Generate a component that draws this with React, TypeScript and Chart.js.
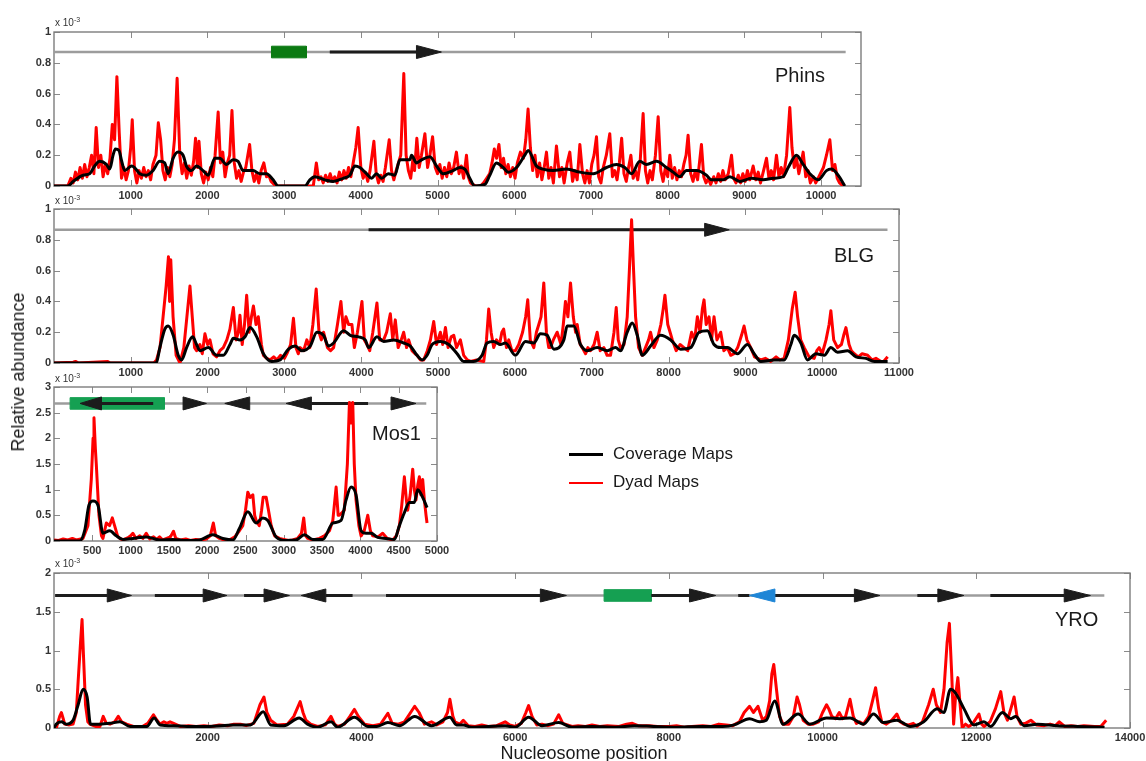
import React, { useEffect, useRef } from 'react';
import { Chart, registerables } from 'chart.js';

Chart.register(...registerables);

type Pt = [number, number];

// ---------------- Phins ----------------
const phinsDyad: Pt[] = [
  [0,0],[180,0],[220,0.05],[250,0.02],[280,0.09],[310,0.04],[340,0.12],[370,0.05],[400,0.14],[430,0.06],[460,0.12],[490,0.2],[520,0.08],[550,0.38],[580,0.12],[610,0.2],[640,0.06],[670,0.14],[700,0.08],[730,0.18],[760,0.4],[790,0.3],[820,0.71],[850,0.35],[880,0.05],[910,0.12],[940,0.04],[970,0.1],[1000,0.25],[1020,0.43],[1050,0.1],[1080,0.02],[1110,0.1],[1140,0.05],[1170,0.12],[1200,0.06],[1230,0.1],[1260,0.04],[1290,0.14],[1330,0.2],[1360,0.41],[1390,0.3],[1420,0.1],[1450,0.04],[1480,0.12],[1510,0.06],[1540,0.14],[1570,0.3],[1605,0.7],[1640,0.2],[1670,0.08],[1700,0.15],[1730,0.05],[1760,0.13],[1790,0.07],[1820,0.16],[1845,0.31],[1870,0.12],[1890,0.29],[1920,0.08],[1950,0.02],[1980,0.09],[2010,0.04],[2040,0.12],[2070,0.06],[2100,0.2],[2140,0.48],[2170,0.15],[2200,0.22],[2230,0.06],[2260,0.15],[2290,0.2],[2320,0.49],[2350,0.15],[2380,0.05],[2410,0.1],[2440,0.03],[2470,0.09],[2500,0.12],[2550,0.27],[2580,0.1],[2610,0.03],[2640,0.08],[2670,0.02],[2700,0.1],[2735,0.15],[2770,0.06],[2800,0.07],[2830,0.03],[2870,0.01],[2900,0],[3380,0],[3420,0.15],[3450,0.04],[3480,0.06],[3510,0.02],[3540,0.07],[3570,0.03],[3600,0.08],[3630,0.03],[3660,0.06],[3690,0.02],[3720,0.09],[3750,0.04],[3780,0.1],[3810,0.05],[3840,0.12],[3870,0.06],[3900,0.15],[3935,0.25],[3965,0.38],[4000,0.12],[4030,0.05],[4060,0.09],[4090,0.03],[4120,0.1],[4170,0.29],[4200,0.08],[4230,0.02],[4260,0.07],[4290,0.03],[4320,0.12],[4370,0.3],[4400,0.1],[4430,0.04],[4460,0.1],[4490,0.15],[4520,0.2],[4560,0.73],[4590,0.2],[4620,0.1],[4650,0.05],[4680,0.18],[4700,0.1],[4730,0.31],[4760,0.12],[4790,0.2],[4835,0.34],[4870,0.12],[4900,0.2],[4935,0.32],[4970,0.12],[5000,0.08],[5030,0.14],[5060,0.05],[5090,0.12],[5120,0.06],[5150,0.15],[5180,0.08],[5210,0.12],[5246,0.22],[5280,0.08],[5310,0.13],[5340,0.05],[5377,0.2],[5400,0.06],[5430,0.02],[5460,0.01],[5500,0],[5560,0],[5600,0.02],[5640,0.05],[5680,0.08],[5710,0.15],[5740,0.24],[5770,0.18],[5800,0.27],[5830,0.12],[5860,0.18],[5890,0.08],[5920,0.14],[5950,0.06],[5980,0.12],[6010,0.05],[6040,0.15],[6080,0.22],[6120,0.18],[6150,0.3],[6180,0.5],[6210,0.25],[6240,0.1],[6270,0.2],[6300,0.06],[6330,0.15],[6360,0.04],[6390,0.12],[6420,0.22],[6450,0.05],[6480,0.12],[6510,0.02],[6550,0.26],[6590,0.06],[6620,0.12],[6650,0.02],[6690,0.15],[6724,0.22],[6760,0.03],[6790,0.1],[6820,0.04],[6855,0.27],[6890,0.08],[6920,0.02],[6950,0.1],[6980,0.02],[7010,0.14],[7040,0.2],[7072,0.32],[7100,0.06],[7130,0.02],[7160,0.12],[7200,0.2],[7245,0.34],[7280,0.06],[7310,0.1],[7340,0.04],[7370,0.15],[7400,0.31],[7430,0.08],[7460,0.03],[7490,0.12],[7520,0.2],[7550,0.05],[7580,0.1],[7610,0.04],[7640,0.15],[7680,0.47],[7710,0.1],[7740,0.02],[7770,0.1],[7800,0.04],[7840,0.2],[7876,0.45],[7910,0.1],[7940,0.03],[7970,0.12],[8000,0.06],[8028,0.2],[8060,0.05],[8090,0.12],[8120,0.04],[8150,0.1],[8180,0.06],[8210,0.14],[8240,0.2],[8266,0.33],[8300,0.08],[8330,0.03],[8360,0.1],[8390,0.04],[8440,0.27],[8470,0.06],[8500,0.02],[8530,0.05],[8560,0.01],[8600,0.06],[8630,0.02],[8660,0.08],[8690,0.03],[8720,0.1],[8750,0.04],[8790,0.08],[8832,0.2],[8860,0.05],[8890,0.02],[8920,0.07],[8950,0.02],[8980,0.08],[9010,0.03],[9040,0.1],[9070,0.04],[9114,0.13],[9150,0.04],[9180,0.09],[9210,0.02],[9250,0.1],[9288,0.18],[9320,0.05],[9350,0.1],[9380,0.04],[9418,0.2],[9450,0.06],[9480,0.12],[9510,0.06],[9550,0.2],[9592,0.51],[9620,0.25],[9650,0.12],[9680,0.18],[9710,0.08],[9740,0.15],[9766,0.22],[9800,0.06],[9830,0.1],[9860,0.02],[9900,0.06],[9930,0.02],[9960,0.05],[9990,0.08],[10030,0.12],[10070,0.2],[10114,0.3],[10150,0.1],[10180,0.14],[10210,0.05],[10240,0.02],[10288,0]
];
const phinsCoverage: Pt[] = [
  [0,0],[180,0],[250,0.03],[380,0.07],[465,0.08],[530,0.13],[596,0.16],[683,0.14],[726,0.11],[770,0.2],[800,0.24],[848,0.23],[878,0.17],[922,0.1],[1010,0.13],[1050,0.12],[1117,0.08],[1204,0.07],[1290,0.1],[1378,0.16],[1443,0.15],[1487,0.08],[1552,0.18],[1617,0.22],[1683,0.2],[1726,0.13],[1791,0.1],[1857,0.13],[1943,0.1],[2009,0.07],[2096,0.18],[2161,0.18],[2248,0.14],[2335,0.17],[2400,0.16],[2465,0.1],[2596,0.1],[2683,0.08],[2770,0.08],[2857,0.04],[2922,0],[3270,0],[3335,0.04],[3400,0.06],[3530,0.04],[3640,0.03],[3770,0.05],[3857,0.07],[3922,0.13],[3987,0.12],[4074,0.08],[4140,0.05],[4204,0.08],[4270,0.05],[4357,0.08],[4443,0.07],[4509,0.17],[4639,0.17],[4661,0.2],[4726,0.15],[4791,0.17],[4900,0.19],[4987,0.13],[5074,0.08],[5200,0.1],[5290,0.12],[5355,0.11],[5420,0.05],[5485,0],[5616,0.01],[5681,0.07],[5768,0.15],[5855,0.12],[5920,0.09],[6029,0.12],[6137,0.2],[6180,0.23],[6289,0.13],[6376,0.11],[6507,0.1],[6681,0.11],[6854,0.09],[7028,0.08],[7202,0.12],[7332,0.14],[7441,0.12],[7528,0.08],[7637,0.16],[7724,0.14],[7854,0.16],[7984,0.12],[8071,0.09],[8158,0.06],[8245,0.1],[8375,0.1],[8506,0.07],[8571,0.04],[8723,0.04],[8810,0.06],[8940,0.03],[9093,0.05],[9245,0.04],[9375,0.05],[9505,0.06],[9571,0.12],[9679,0.2],[9766,0.14],[9853,0.08],[9962,0.04],[10070,0.1],[10136,0.11],[10222,0.07],[10309,0]
];
const phinsXTicks = [1000, 2000, 3000, 4000, 5000, 6000, 7000, 8000, 9000, 10000];
const phinsYTicks = [0, 0.2, 0.4, 0.6, 0.8, 1];
const phinsTrackLevel = 0.87;
const phinsTrackEnd = 10320;
const phinsShafts: Pt[] = [[3595, 4725]];
const phinsHeads: Pt[] = [[4725, 5050]];
const phinsBoxes: Pt[] = [[2835, 3290]];

// ---------------- BLG ----------------
const blgDyad: Pt[] = [
  [0,0],[250,0.005],[280,0.01],[320,0],[700,0.01],[730,0],[1300,0],[1335,0.02],[1380,0.1],[1420,0.3],[1460,0.5],[1490,0.69],[1505,0.4],[1520,0.67],[1550,0.3],[1590,0.05],[1640,0],[1690,0.1],[1730,0.3],[1770,0.5],[1800,0.3],[1830,0.1],[1856,0.08],[1900,0.12],[1930,0.06],[1965,0.19],[2000,0.12],[2030,0.15],[2070,0.06],[2117,0.04],[2160,0.08],[2204,0.1],[2250,0.15],[2290,0.22],[2335,0.36],[2370,0.15],[2400,0.2],[2421,0.31],[2450,0.12],[2480,0.25],[2508,0.44],[2540,0.2],[2570,0.3],[2596,0.37],[2630,0.25],[2660,0.3],[2700,0.12],[2726,0.05],[2770,0.03],[2813,0.02],[2860,0.04],[2900,0.02],[2950,0.05],[3000,0.03],[3040,0.07],[3080,0.12],[3117,0.29],[3150,0.1],[3180,0.06],[3204,0.1],[3250,0.08],[3291,0.15],[3330,0.1],[3370,0.25],[3413,0.48],[3450,0.2],[3480,0.15],[3509,0.2],[3560,0.1],[3600,0.08],[3640,0.1],[3690,0.25],[3735,0.4],[3770,0.2],[3800,0.3],[3835,0.25],[3878,0.25],[3910,0.1],[3950,0.2],[3980,0.3],[4009,0.4],[4040,0.15],[4074,0.12],[4110,0.08],[4150,0.2],[4204,0.39],[4240,0.15],[4291,0.15],[4330,0.2],[4378,0.32],[4410,0.15],[4443,0.28],[4480,0.1],[4520,0.15],[4552,0.2],[4590,0.1],[4617,0.15],[4660,0.08],[4700,0.06],[4726,0.05],[4770,0.02],[4813,0.02],[4860,0.08],[4900,0.15],[4943,0.27],[4980,0.12],[5030,0.2],[5060,0.12],[5096,0.23],[5130,0.1],[5170,0.17],[5204,0.18],[5240,0.1],[5290,0.15],[5333,0.05],[5380,0.02],[5420,0.01],[5500,0.02],[5594,0.01],[5630,0.15],[5659,0.35],[5690,0.2],[5724,0.1],[5760,0.15],[5800,0.12],[5830,0.2],[5854,0.22],[5890,0.1],[5920,0.15],[5960,0.08],[6006,0.08],[6050,0.12],[6100,0.2],[6140,0.3],[6167,0.41],[6200,0.15],[6246,0.1],[6280,0.2],[6311,0.25],[6340,0.3],[6376,0.52],[6410,0.2],[6440,0.1],[6463,0.1],[6500,0.15],[6550,0.2],[6600,0.12],[6630,0.25],[6658,0.4],[6690,0.3],[6724,0.52],[6760,0.3],[6790,0.2],[6811,0.25],[6850,0.12],[6876,0.1],[6920,0.06],[6950,0.1],[6984,0.08],[7030,0.12],[7071,0.2],[7110,0.08],[7158,0.1],[7200,0.05],[7245,0.05],[7290,0.2],[7319,0.36],[7345,0.15],[7375,0.1],[7420,0.12],[7462,0.3],[7490,0.6],[7519,0.93],[7545,0.6],[7571,0.3],[7610,0.1],[7658,0.05],[7700,0.1],[7740,0.15],[7766,0.2],[7810,0.1],[7853,0.15],[7900,0.25],[7930,0.35],[7953,0.44],[7990,0.25],[8020,0.2],[8049,0.15],[8100,0.08],[8150,0.12],[8201,0.1],[8250,0.08],[8300,0.2],[8340,0.15],[8375,0.3],[8410,0.2],[8440,0.35],[8462,0.41],[8490,0.25],[8527,0.3],[8560,0.15],[8592,0.3],[8630,0.15],[8679,0.2],[8720,0.08],[8766,0.1],[8810,0.05],[8853,0.06],[8900,0.1],[8950,0.18],[8983,0.24],[9020,0.15],[9070,0.1],[9120,0.04],[9201,0.02],[9260,0.03],[9331,0.01],[9400,0.04],[9450,0.02],[9505,0.03],[9560,0.15],[9610,0.35],[9648,0.46],[9680,0.3],[9720,0.15],[9766,0.1],[9830,0.04],[9896,0.03],[9930,0.08],[9961,0.1],[10000,0.06],[10050,0.15],[10090,0.25],[10113,0.34],[10150,0.15],[10200,0.1],[10250,0.12],[10280,0.18],[10309,0.23],[10350,0.12],[10380,0.08],[10418,0.06],[10470,0.04],[10520,0.06],[10592,0.05],[10650,0.02],[10700,0.03],[10766,0.01],[10800,0.01],[10852,0.04]
];
const blgCoverage: Pt[] = [
  [0,0],[1330,0],[1378,0.1],[1443,0.22],[1487,0.24],[1552,0.18],[1617,0.05],[1661,0.02],[1726,0.1],[1804,0.17],[1856,0.12],[1900,0.08],[2009,0.1],[2117,0.05],[2204,0.05],[2291,0.12],[2335,0.16],[2421,0.15],[2487,0.17],[2552,0.23],[2639,0.17],[2726,0.06],[2835,0.01],[2943,0.02],[3052,0.09],[3139,0.11],[3226,0.08],[3335,0.11],[3422,0.2],[3509,0.18],[3574,0.11],[3640,0.13],[3770,0.21],[3857,0.18],[3965,0.17],[4052,0.15],[4096,0.1],[4204,0.17],[4291,0.14],[4422,0.15],[4552,0.13],[4639,0.11],[4726,0.05],[4791,0.02],[4857,0.05],[4922,0.12],[5030,0.14],[5139,0.12],[5248,0.06],[5333,0.01],[5463,0.01],[5572,0.05],[5637,0.13],[5724,0.14],[5811,0.12],[5876,0.13],[6006,0.05],[6137,0.14],[6246,0.13],[6333,0.19],[6420,0.18],[6507,0.09],[6637,0.15],[6680,0.24],[6767,0.24],[6854,0.12],[6941,0.08],[7071,0.1],[7202,0.08],[7310,0.1],[7375,0.08],[7462,0.2],[7527,0.26],[7593,0.18],[7658,0.05],[7766,0.11],[7897,0.18],[8028,0.15],[8158,0.09],[8288,0.1],[8397,0.2],[8506,0.21],[8592,0.12],[8679,0.1],[8766,0.1],[8897,0.06],[9027,0.12],[9114,0.06],[9201,0.01],[9375,0.02],[9505,0.02],[9592,0.12],[9635,0.18],[9722,0.13],[9809,0.02],[9918,0.06],[10027,0.05],[10113,0.1],[10200,0.07],[10331,0.08],[10440,0.04],[10570,0.03],[10679,0.01],[10852,0.01]
];
const blgXTicks = [1000, 2000, 3000, 4000, 5000, 6000, 7000, 8000, 9000, 10000, 11000];
const blgYTicks = [0, 0.2, 0.4, 0.6, 0.8, 1];
const blgTrackLevel = 0.865;
const blgTrackEnd = 10850;
const blgShafts: Pt[] = [[4095, 8470]];
const blgHeads: Pt[] = [[8470, 8790]];
const blgBoxes: Pt[] = [];

// ---------------- Mos1 ----------------
const mosDyad: Pt[] = [
  [0,0.02],[60,0.01],[120,0.04],[180,0.02],[240,0.05],[290,0.02],[378,0.05],[443,0.3],[487,1.2],[510,2.0],[522,2.4],[540,1.8],[552,1.5],[587,0.5],[620,0.1],[639,0.05],[683,0.35],[726,0.3],[761,0.45],[791,0.3],[830,0.1],[857,0.05],[900,0.02],[960,0.06],[1000,0.1],[1030,0.15],[1070,0.05],[1120,0.1],[1160,0.05],[1204,0.15],[1250,0.04],[1300,0.08],[1340,0.03],[1378,0.08],[1420,0.02],[1470,0.05],[1520,0.08],[1560,0.19],[1590,0.05],[1650,0.02],[1720,0.04],[1780,0.01],[1850,0.03],[1920,0.02],[1990,0.04],[2040,0.1],[2080,0.35],[2110,0.1],[2161,0.05],[2220,0.02],[2300,0.03],[2360,0.08],[2420,0.2],[2465,0.3],[2500,0.6],[2530,0.95],[2560,0.85],[2596,0.9],[2620,0.5],[2639,0.4],[2680,0.3],[2710,0.6],[2730,0.85],[2770,0.85],[2800,0.6],[2835,0.3],[2880,0.1],[2943,0.05],[3000,0.03],[3060,0.01],[3117,0.02],[3180,0.05],[3230,0.15],[3260,0.45],[3285,0.1],[3313,0.05],[3380,0.02],[3465,0.05],[3530,0.1],[3596,0.2],[3640,0.4],[3683,1.05],[3710,0.5],[3726,0.5],[3790,0.6],[3830,1.5],[3857,2.7],[3880,2.3],[3900,2.7],[3920,1.5],[3943,0.8],[3980,0.3],[4009,0.1],[4050,0.2],[4096,0.5],[4130,0.2],[4161,0.1],[4230,0.08],[4291,0.15],[4350,0.05],[4422,0.02],[4470,0.1],[4509,0.3],[4540,0.7],[4574,1.25],[4600,0.8],[4617,0.6],[4650,0.9],[4683,1.4],[4704,1.0],[4726,0.8],[4750,1.1],[4770,1.25],[4790,0.9],[4813,1.2],[4835,0.8],[4857,0.5],[4870,0.35]
];
const mosCoverage: Pt[] = [
  [0,0],[335,0],[400,0.2],[457,0.7],[509,0.78],[574,0.7],[639,0.15],[726,0.2],[813,0.1],[900,0.03],[1030,0.05],[1204,0.08],[1378,0.02],[1552,0.03],[1726,0.01],[1900,0.02],[2074,0.12],[2204,0.05],[2335,0.02],[2422,0.25],[2530,0.57],[2639,0.35],[2726,0.45],[2791,0.4],[2900,0.08],[3030,0.01],[3161,0.02],[3270,0.12],[3378,0.03],[3509,0.03],[3639,0.35],[3748,0.4],[3813,0.8],[3878,1.05],[3943,0.9],[4009,0.2],[4074,0.15],[4139,0.15],[4226,0.07],[4335,0.05],[4443,0.03],[4509,0.3],[4574,0.55],[4639,0.75],[4704,0.75],[4748,1.0],[4813,0.85],[4870,0.65]
];
const mosXTicks = [500, 1000, 1500, 2000, 2500, 3000, 3500, 4000, 4500, 5000];
const mosYTicks = [0, 0.5, 1, 1.5, 2, 2.5, 3];
const mosTrackLevel = 2.68;
const mosTrackEnd = 4860;
const mosShafts: Pt[] = [[620, 1295], [3360, 4100]];
const mosHeads: Pt[] = [[620, 340], [1685, 1990], [2555, 2230], [3360, 3030], [4400, 4725]];
const mosBoxes: Pt[] = [[210, 1440]];

// ---------------- YRO ----------------
const yroDyad: Pt[] = [
  [0,0],[30,0],[74,0.15],[96,0.2],[120,0.12],[139,0.05],[200,0.04],[248,0.05],[290,0.2],[314,0.6],[345,1.1],[365,1.4],[385,0.9],[410,0.3],[440,0.08],[466,0.05],[540,0.02],[597,0.02],[640,0.15],[680,0.06],[728,0.05],[790,0.08],[836,0.15],[880,0.08],[946,0.05],[1033,0.02],[1150,0.02],[1220,0.06],[1294,0.17],[1340,0.1],[1381,0.05],[1430,0.08],[1468,0.06],[1510,0.08],[1556,0.06],[1643,0.02],[1750,0.03],[1850,0.02],[1950,0.03],[2050,0.02],[2150,0.04],[2260,0.03],[2340,0.05],[2427,0.05],[2500,0.03],[2600,0.06],[2680,0.3],[2732,0.4],[2770,0.2],[2819,0.1],[2900,0.04],[3037,0.05],[3120,0.15],[3203,0.34],[3240,0.2],[3277,0.1],[3340,0.05],[3429,0.02],[3530,0.04],[3604,0.15],[3650,0.05],[3691,0.02],[3780,0.05],[3850,0.15],[3909,0.24],[3960,0.15],[4040,0.05],[4150,0.03],[4250,0.05],[4344,0.19],[4400,0.06],[4480,0.05],[4560,0.08],[4640,0.2],[4693,0.28],[4750,0.2],[4820,0.05],[4911,0.08],[4980,0.04],[5060,0.08],[5120,0.2],[5151,0.37],[5190,0.15],[5216,0.08],[5280,0.05],[5325,0.1],[5390,0.03],[5480,0.02],[5565,0.04],[5650,0.02],[5760,0.03],[5870,0.08],[5930,0.04],[6000,0.02],[6080,0.06],[6140,0.2],[6175,0.29],[6220,0.15],[6280,0.04],[6349,0.05],[6420,0.03],[6500,0.05],[6567,0.17],[6620,0.06],[6741,0.02],[6820,0.03],[6915,0.02],[7000,0.04],[7100,0.02],[7200,0.03],[7351,0.02],[7450,0.05],[7525,0.06],[7600,0.03],[7743,0.03],[7850,0.02],[8005,0.02],[8100,0.03],[8200,0.01],[8300,0.02],[8441,0.03],[8550,0.02],[8650,0.05],[8745,0.04],[8830,0.03],[8919,0.08],[8980,0.2],[9050,0.28],[9100,0.2],[9159,0.28],[9220,0.1],[9270,0.15],[9311,0.35],[9340,0.7],[9365,0.82],[9400,0.5],[9440,0.15],[9486,0.05],[9560,0.05],[9620,0.15],[9668,0.4],[9700,0.3],[9747,0.1],[9810,0.05],[9878,0.05],[9950,0.08],[10000,0.2],[10052,0.3],[10080,0.25],[10120,0.15],[10170,0.12],[10217,0.2],[10260,0.12],[10300,0.15],[10357,0.37],[10400,0.15],[10440,0.06],[10480,0.08],[10532,0.05],[10600,0.15],[10650,0.35],[10690,0.52],[10730,0.25],[10770,0.08],[10830,0.05],[10900,0.1],[10967,0.18],[11010,0.08],[11055,0.05],[11120,0.04],[11180,0.06],[11229,0.02],[11300,0.08],[11380,0.3],[11440,0.5],[11480,0.3],[11534,0.2],[11580,0.5],[11620,1.1],[11650,1.35],[11680,0.7],[11705,0.05],[11730,0.4],[11760,0.65],[11790,0.3],[11817,0],[11860,0.05],[11900,0.02],[11950,0.05],[12035,0.18],[12070,0.05],[12100,0.02],[12180,0.08],[12250,0.25],[12318,0.47],[12360,0.2],[12405,0.1],[12450,0.25],[12492,0.4],[12530,0.15],[12579,0.05],[12640,0.06],[12710,0.1],[12780,0.04],[12884,0.03],[12960,0.05],[13030,0.03],[13080,0.08],[13150,0.02],[13233,0.03],[13320,0.02],[13400,0.03],[13538,0.02],[13620,0.02],[13690,0.1]
];
const yroCoverage: Pt[] = [
  [0,0],[30,0.05],[96,0.08],[161,0.05],[248,0.1],[314,0.3],[379,0.5],[431,0.4],[475,0.05],[597,0.05],[728,0.06],[858,0.08],[989,0.02],[1207,0.02],[1303,0.13],[1381,0.04],[1556,0.03],[1730,0.02],[1991,0.02],[2340,0.04],[2558,0.04],[2723,0.21],[2819,0.04],[2993,0.03],[3190,0.13],[3298,0.05],[3429,0.01],[3604,0.08],[3691,0.01],[3909,0.14],[4083,0.02],[4200,0.02],[4344,0.07],[4500,0.03],[4693,0.15],[4911,0.03],[5151,0.14],[5238,0.04],[5325,0.04],[5434,0.01],[5870,0.03],[6000,0.01],[6175,0.14],[6349,0.03],[6567,0.07],[6741,0.01],[7000,0.02],[7300,0.01],[7550,0.03],[7800,0.02],[8100,0.01],[8400,0.02],[8700,0.02],[8850,0.04],[9050,0.12],[9181,0.08],[9268,0.1],[9377,0.35],[9486,0.05],[9682,0.18],[9835,0.05],[10052,0.13],[10227,0.12],[10357,0.13],[10532,0.05],[10663,0.18],[10793,0.07],[10967,0.1],[11142,0.02],[11316,0.08],[11490,0.25],[11578,0.2],[11665,0.5],[11730,0.45],[11839,0.25],[11970,0.04],[12100,0.08],[12187,0.02],[12340,0.2],[12449,0.12],[12513,0.15],[12623,0.03],[12797,0.05],[13058,0.03],[13320,0.02],[13669,0.01]
];
const yroXTicks = [2000, 4000, 6000, 8000, 10000, 12000, 14000];
const yroYTicks = [0, 0.5, 1, 1.5, 2];
const yroTrackLevel = 1.71;
const yroTrackEnd = 13666;
const yroShafts: Pt[] = [[15, 693], [1312, 1941], [2473, 2733], [3537, 3885], [4320, 6328], [7771, 8268], [8902, 9048], [9380, 10414], [11233, 11500], [12183, 13144]];
const yroHeads: Pt[] = [[693, 1008], [1941, 2250], [2733, 3063], [3537, 3217], [6328, 6667], [8268, 8609], [10414, 10745], [11500, 11838], [13144, 13485]];
const yroBlueHeads: Pt[] = [[9380, 9048]];
const yroBoxes: Pt[] = [[7157, 7771]];

// ---------------- layout (page pixels) ----------------
interface Box { left: number; top: number; right: number; bottom: number }
interface PanelSpec {
  name: string;
  dyad: Pt[];
  coverage: Pt[];
  xMax: number;
  yMax: number;
  xTicks: number[];
  yTicks: number[];
  level: number;
  trackEnd: number;
  shafts: Pt[];
  heads: Pt[];
  blueHeads: Pt[];
  boxes: Pt[];
  boxColor: string;
  box: Box;
  nameLeft: number;
  nameTop: number;
}

const panels: PanelSpec[] = [
  { name: 'Phins', dyad: phinsDyad, coverage: phinsCoverage, xMax: 10520, yMax: 1, xTicks: phinsXTicks, yTicks: phinsYTicks,
    level: phinsTrackLevel, trackEnd: phinsTrackEnd, shafts: phinsShafts, heads: phinsHeads, blueHeads: [], boxes: phinsBoxes, boxColor: '#0b7a12',
    box: { left: 54, top: 31.5, right: 861, bottom: 185 }, nameLeft: 775, nameTop: 64 },
  { name: 'BLG', dyad: blgDyad, coverage: blgCoverage, xMax: 11000, yMax: 1, xTicks: blgXTicks, yTicks: blgYTicks,
    level: blgTrackLevel, trackEnd: blgTrackEnd, shafts: blgShafts, heads: blgHeads, blueHeads: [], boxes: blgBoxes, boxColor: '#0b7a12',
    box: { left: 54, top: 209, right: 899, bottom: 363 }, nameLeft: 834, nameTop: 244 },
  { name: 'Mos1', dyad: mosDyad, coverage: mosCoverage, xMax: 5000, yMax: 3, xTicks: mosXTicks, yTicks: mosYTicks,
    level: mosTrackLevel, trackEnd: mosTrackEnd, shafts: mosShafts, heads: mosHeads, blueHeads: [], boxes: mosBoxes, boxColor: '#15a052',
    box: { left: 54, top: 387, right: 437, bottom: 541 }, nameLeft: 372, nameTop: 422 },
  { name: 'YRO', dyad: yroDyad, coverage: yroCoverage, xMax: 14000, yMax: 2, xTicks: yroXTicks, yTicks: yroYTicks,
    level: yroTrackLevel, trackEnd: yroTrackEnd, shafts: yroShafts, heads: yroHeads, blueHeads: yroBlueHeads, boxes: yroBoxes, boxColor: '#15a052',
    box: { left: 54, top: 572.5, right: 1130, bottom: 727 }, nameLeft: 1055, nameTop: 608 },
];

const PAD_TOP = 32;
const AXIS_H = 22;
const PAD_RIGHT = 20;

const toXY = (pts: Pt[]) => pts.map(([x, y]) => ({ x, y }));

const framePlugin = {
  id: 'matlabFrame',
  beforeDatasetsDraw(chart: any) {
    const { ctx, chartArea, scales } = chart;
    const { left, right, top, bottom } = chartArea;
    const xs = scales.x;
    const ys = scales.y;
    const L = 6;
    ctx.save();
    ctx.strokeStyle = '#8a8a8a';
    ctx.lineWidth = 1;
    ctx.beginPath();
    xs.ticks.forEach((t: any) => {
      const px = Math.round(xs.getPixelForValue(t.value)) + 0.5;
      ctx.moveTo(px, top); ctx.lineTo(px, top + L);
      ctx.moveTo(px, bottom); ctx.lineTo(px, bottom - L);
    });
    ys.ticks.forEach((t: any) => {
      const py = Math.round(ys.getPixelForValue(t.value)) + 0.5;
      ctx.moveTo(left, py); ctx.lineTo(left + L, py);
      ctx.moveTo(right, py); ctx.lineTo(right - L, py);
    });
    ctx.stroke();
    ctx.strokeStyle = '#7d7d7d';
    ctx.lineWidth = 1.4;
    ctx.strokeRect(left, top, right - left, bottom - top);
    ctx.restore();
  },
};

function polygon(pts: Pt[], color: string) {
  return {
    data: toXY(pts),
    borderColor: color,
    backgroundColor: color,
    borderWidth: 1,
    fill: 'shape',
    pointRadius: 0,
    tension: 0,
  };
}

function buildDatasets(p: PanelSpec) {
  const plotH = p.box.bottom - p.box.top;
  const hh = (6.5 * p.yMax) / plotH;
  const hb = (5.8 * p.yMax) / plotH;
  const lv = p.level;
  const bottomFirst: any[] = [];
  bottomFirst.push({ data: toXY([[0, lv], [p.trackEnd, lv]]), borderColor: '#9c9c9c', borderWidth: 2.5, pointRadius: 0, fill: false });
  p.boxes.forEach(([a, b]) => bottomFirst.push(polygon([[a, lv + hb], [b, lv + hb], [b, lv - hb], [a, lv - hb], [a, lv + hb]], p.boxColor)));
  p.shafts.forEach(([a, b]) => bottomFirst.push({ data: toXY([[a, lv], [b, lv]]), borderColor: '#1c1c1c', borderWidth: 3, pointRadius: 0, fill: false }));
  p.heads.forEach(([base, tip]) => bottomFirst.push(polygon([[base, lv + hh], [tip, lv], [base, lv - hh], [base, lv + hh]], '#1c1c1c')));
  p.blueHeads.forEach(([base, tip]) => bottomFirst.push(polygon([[base, lv + hh], [tip, lv], [base, lv - hh], [base, lv + hh]], '#1f86d6')));
  bottomFirst.push({ data: toXY(p.dyad), borderColor: '#ff0000', borderWidth: 3, pointRadius: 0, tension: 0, fill: false, borderJoinStyle: 'round' });
  bottomFirst.push({ data: toXY(p.coverage), borderColor: '#000000', borderWidth: 3, pointRadius: 0, cubicInterpolationMode: 'monotone', fill: false, borderJoinStyle: 'round' });
  return bottomFirst.reverse();
}

function Panel({ p }: { p: PanelSpec }) {
  const ref = useRef<HTMLCanvasElement>(null);
  const width = Math.round(p.box.right + PAD_RIGHT);
  const height = Math.round(p.box.bottom - p.box.top + PAD_TOP + AXIS_H);
  const canvasTop = p.box.top - PAD_TOP;

  useEffect(() => {
    if (!ref.current) return;
    const tickFont = { family: 'Liberation Sans, Arial, sans-serif', size: 11, weight: 'bold' as const };
    const chart = new Chart(ref.current, {
      type: 'line',
      data: { datasets: buildDatasets(p) },
      options: {
        animation: false,
        responsive: false,
        events: [],
        layout: { padding: { top: PAD_TOP, right: PAD_RIGHT, bottom: 0, left: 0 } },
        plugins: { legend: { display: false }, tooltip: { enabled: false } },
        scales: {
          x: {
            type: 'linear',
            min: 0,
            max: p.xMax,
            grid: { display: false, drawTicks: false, tickLength: 0 },
            border: { display: false },
            afterBuildTicks: (s: any) => { s.ticks = p.xTicks.map((v) => ({ value: v })); },
            afterFit: (s: any) => { s.height = AXIS_H; s.paddingLeft = 0; s.paddingRight = 0; },
            ticks: { autoSkip: false, maxRotation: 0, padding: 3, color: '#333', font: tickFont, callback: (v: any) => String(v) },
          },
          y: {
            type: 'linear',
            min: 0,
            max: p.yMax,
            grid: { display: false, drawTicks: false, tickLength: 0 },
            border: { display: false },
            afterBuildTicks: (s: any) => { s.ticks = p.yTicks.map((v) => ({ value: v })); },
            afterFit: (s: any) => { s.width = p.box.left; s.paddingTop = 0; s.paddingBottom = 0; },
            ticks: { autoSkip: false, padding: 3, color: '#333', font: tickFont, callback: (v: any) => String(v) },
          },
        },
      },
      plugins: [framePlugin],
    } as any);
    return () => chart.destroy();
  }, []);

  return (
    <canvas
      ref={ref}
      width={width}
      height={height}
      style={{ position: 'absolute', left: 0, top: canvasTop, width, height, display: 'block' }}
    />
  );
}

const textColor = '#1a1a1a';

export default function App() {
  return (
    <div
      style={{
        position: 'absolute', left: 0, top: 0, width: 1146, height: 761, overflow: 'hidden',
        background: '#ffffff', fontFamily: 'Liberation Sans, Arial, sans-serif', color: textColor,
      }}
    >
      {panels.map((p) => (
        <Panel key={p.name} p={p} />
      ))}
      {panels.map((p) => (
        <div key={p.name + '-exp'} style={{ position: 'absolute', left: 55, top: p.box.top - 13.5, fontSize: 10, lineHeight: '10px', color: '#333', whiteSpace: 'nowrap' }}>
          x 10<span style={{ fontSize: 7, position: 'relative', top: -4 }}>-3</span>
        </div>
      ))}
      {panels.map((p) => (
        <div key={p.name + '-name'} style={{ position: 'absolute', left: p.nameLeft, top: p.nameTop, fontSize: 20, lineHeight: '22px', whiteSpace: 'nowrap' }}>
          {p.name}
        </div>
      ))}
      {/* legend */}
      <div style={{ position: 'absolute', left: 569, top: 452.5, width: 34, height: 3, background: '#000' }} />
      <div style={{ position: 'absolute', left: 569, top: 481.5, width: 34, height: 2.2, background: '#ff0000' }} />
      <div style={{ position: 'absolute', left: 613, top: 444, fontSize: 17, lineHeight: '20px', whiteSpace: 'nowrap' }}>Coverage Maps</div>
      <div style={{ position: 'absolute', left: 613, top: 472, fontSize: 17, lineHeight: '20px', whiteSpace: 'nowrap' }}>Dyad Maps</div>
      {/* axis titles */}
      <div style={{ position: 'absolute', left: 18, top: 372, transform: 'translate(-50%, -50%) rotate(-90deg)', fontSize: 18, lineHeight: '20px', whiteSpace: 'nowrap' }}>
        Relative abundance
      </div>
      <div style={{ position: 'absolute', left: 584, top: 753, transform: 'translate(-50%, -50%)', fontSize: 18, lineHeight: '20px', whiteSpace: 'nowrap' }}>
        Nucleosome position
      </div>
    </div>
  );
}
